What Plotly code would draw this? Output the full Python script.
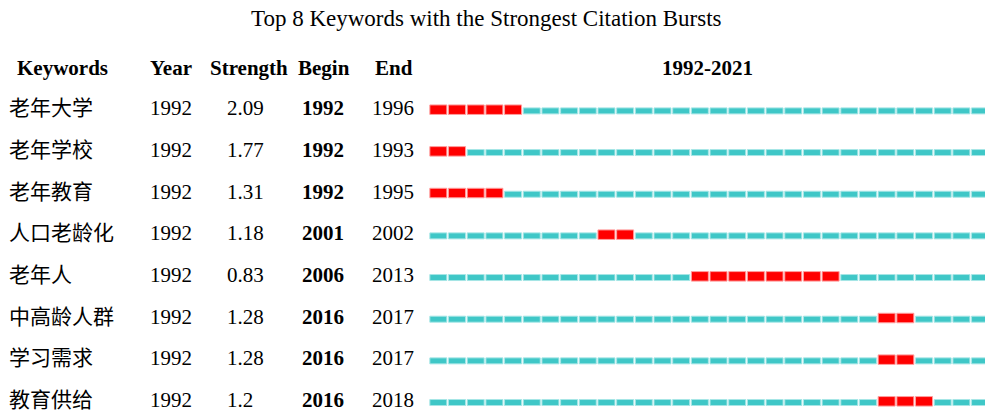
import plotly.graph_objects as go

# ---- data ----
keywords = ["老年大学", "老年学校", "老年教育", "人口老龄化", "老年人", "中高龄人群", "学习需求", "教育供给"]
years = [1992, 1992, 1992, 1992, 1992, 1992, 1992, 1992]
strengths = [2.09, 1.77, 1.31, 1.18, 0.83, 1.28, 1.28, 1.2]
begins = [1992, 1992, 1992, 2001, 2006, 2016, 2016, 2016]
ends = [1996, 1993, 1995, 2002, 2013, 2017, 2017, 2018]
first_year = 1992
last_year = 2021
title = "Top 8 Keywords with the Strongest Citation Bursts"
headers = ["Keywords", "Year", "Strength", "Begin", "End"]

# ---- layout constants (pixels) ----
W, H = 985, 412
FONT = "Liberation Serif, 'Noto Sans CJK SC', serif"
CYAN = "#3fc7c7"
CYAN_LINE = "#a6e6e6"
RED = "#ff0000"
RED_LINE = "#ff9d9d"
pitch = 18.68          # px per year
x0_px = 429            # pixel of first_year
row0_px = 109.7        # pixel of first row centre
row_h = 41.66          # px per row

x_range = [first_year - x0_px / pitch, first_year + (W - x0_px) / pitch]
y_range = [(H - row0_px) / row_h, -row0_px / row_h]

n = len(keywords)
seg = 0.91
cy_base, cy_len, cy_row = [], [], []
rd_base, rd_len, rd_row = [], [], []
for i in range(n):
    for yr in range(first_year, last_year + 1):
        if begins[i] <= yr <= ends[i]:
            rd_base.append(yr + (1 - seg) / 2); rd_len.append(seg); rd_row.append(i)
        else:
            cy_base.append(yr + (1 - seg) / 2); cy_len.append(seg); cy_row.append(i)

red_w = 9.5 / row_h
cy_w = 6.0 / row_h

fig = go.Figure()
fig.add_trace(go.Bar(orientation="h", y=cy_row, x=cy_len, base=cy_base,
                     width=cy_w, offset=-cy_w / 2 + 1.2 / row_h,
                     marker=dict(color=CYAN, line=dict(color=CYAN_LINE, width=1)),
                     hoverinfo="skip", showlegend=False))
fig.add_trace(go.Bar(orientation="h", y=rd_row, x=rd_len, base=rd_base,
                     width=red_w, offset=-red_w / 2,
                     marker=dict(color=RED, line=dict(color=RED_LINE, width=1)),
                     hoverinfo="skip", showlegend=False))

ann = []
def add(text, px, row, anchor="left", bold=False, size=21):
    ann.append(dict(text=("<b>%s</b>" % text) if bold else text,
                    x=px / W, xref="paper", y=row, yref="y",
                    xanchor=anchor, yanchor="middle", showarrow=False,
                    font=dict(family=FONT, size=size, color="black")))

# title and header
add(title, 486.7, -2.2, anchor="center", size=23)
hdr_x = [15, 148, 208, 296, 373]
for h, px in zip(headers, hdr_x):
    add(h, px, -1, bold=True)
add("%d-%d" % (first_year, last_year), 707, -1, anchor="center", bold=True)

for i in range(n):
    add(keywords[i], 7, i - 0.03)
    add(str(years[i]), 148, i - 0.03)
    add(str(strengths[i]), 225, i - 0.03)
    add(str(begins[i]), 300, i - 0.03, bold=True)
    add(str(ends[i]), 370, i - 0.03)

fig.update_layout(
    width=W, height=H, margin=dict(l=0, r=0, t=0, b=0),
    paper_bgcolor="white", plot_bgcolor="white",
    barmode="overlay", annotations=ann,
    xaxis=dict(range=x_range, visible=False, fixedrange=True),
    yaxis=dict(range=y_range, visible=False, fixedrange=True),
)
fig.write_html("out.html", config={"displayModeBar": False, "staticPlot": True},
               post_script="document.body.style.margin='0';document.body.style.overflow='hidden';")
